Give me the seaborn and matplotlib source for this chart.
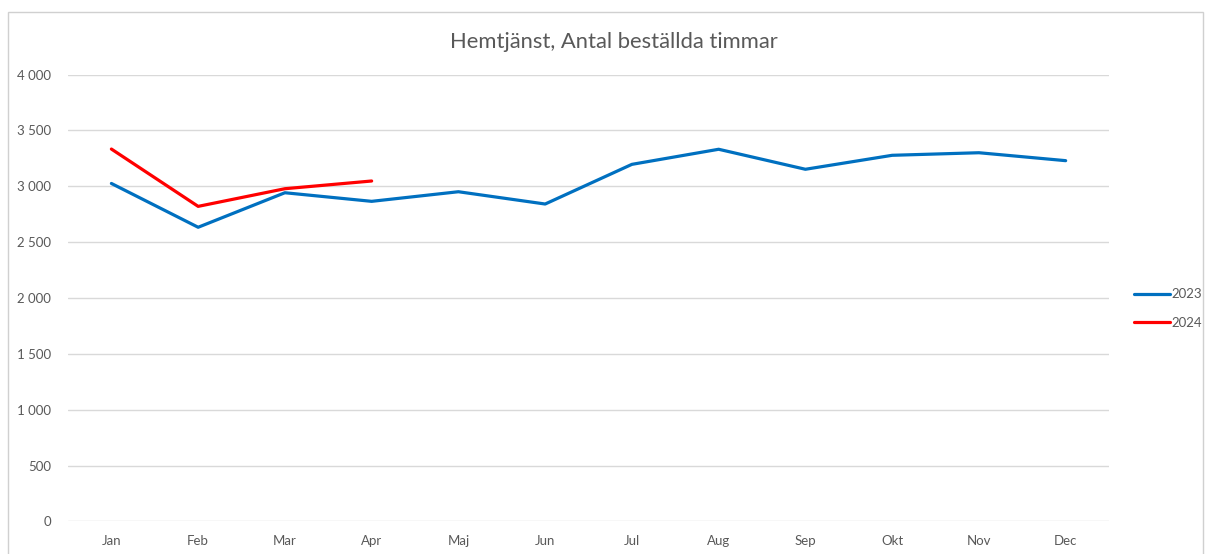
import matplotlib
matplotlib.use("Agg")
import matplotlib.pyplot as plt
from matplotlib.patches import Rectangle
from matplotlib.ticker import FuncFormatter
import seaborn as sns
import pandas as pd

months = ["Jan", "Feb", "Mar", "Apr", "Maj", "Jun", "Jul", "Aug", "Sep", "Okt", "Nov", "Dec"]
hours_2023 = [3025, 2633, 2942, 2865, 2951, 2841, 3196, 3331, 3152, 3277, 3300, 3229]
hours_2024 = [3333, 2820, 2978, 3047]
years = ["2023", "2024"]
colors = {"2023": "#0070C0", "2024": "#FF0000"}

frames = [
    pd.DataFrame({"Månad": months[:len(hours_2023)], "Timmar": hours_2023, "År": "2023"}),
    pd.DataFrame({"Månad": months[:len(hours_2024)], "Timmar": hours_2024, "År": "2024"}),
]
df = pd.concat(frames, ignore_index=True)
df["pos"] = df["Månad"].map({m: i for i, m in enumerate(months)})

sns.set_theme(style="white")
plt.rcParams["font.family"] = ["Lato", "DejaVu Sans"]

fig = plt.figure(figsize=(12.06, 5.54), dpi=100)
ax = fig.add_axes([0.0564, 0.0587, 0.9196 - 0.0564, 0.8655 - 0.0587])

sns.lineplot(data=df, x="pos", y="Timmar", hue="År", hue_order=years,
             palette=colors, linewidth=2.3, ax=ax, sort=False)

ax.set_xlim(-0.5, len(months) - 0.5)
ax.set_ylim(0, 4000)
ax.set_yticks(range(0, 4001, 500))
ax.yaxis.set_major_formatter(FuncFormatter(lambda v, _: f"{int(v):,}".replace(",", " ")))
ax.set_xticks(range(len(months)))
ax.set_xticklabels(months)
ax.grid(axis="y", color="#D9D9D9", linewidth=1.0)
ax.grid(axis="x", visible=False)
for s in ax.spines.values():
    s.set_visible(False)
ax.tick_params(axis="both", length=0, labelsize=9.5, labelcolor="#595959")
ax.tick_params(axis="y", pad=12)
ax.tick_params(axis="x", pad=10)
ax.set_xlabel("")
ax.set_ylabel("")

fig.text(0.509, 0.924, "Hemtjänst, Antal beställda timmar", ha="center", va="center",
         fontsize=15.8, color="#595959")

handles, labels = ax.get_legend_handles_labels()
ax.legend(handles, labels, loc="center left", bbox_to_anchor=(0.9305, 0.443),
          bbox_transform=fig.transFigure, frameon=False, fontsize=9.5,
          labelcolor="#595959", handlelength=2.7, handletextpad=0.1, labelspacing=1.25)

fig.patches.append(Rectangle((8 / 1206, -0.01), (1203 - 8) / 1206, 1 - 12 / 554 + 0.01,
                             transform=fig.transFigure, fill=False,
                             edgecolor="#D0D0D0", linewidth=1.0))

fig.savefig("out.png", dpi=100, facecolor="white")
